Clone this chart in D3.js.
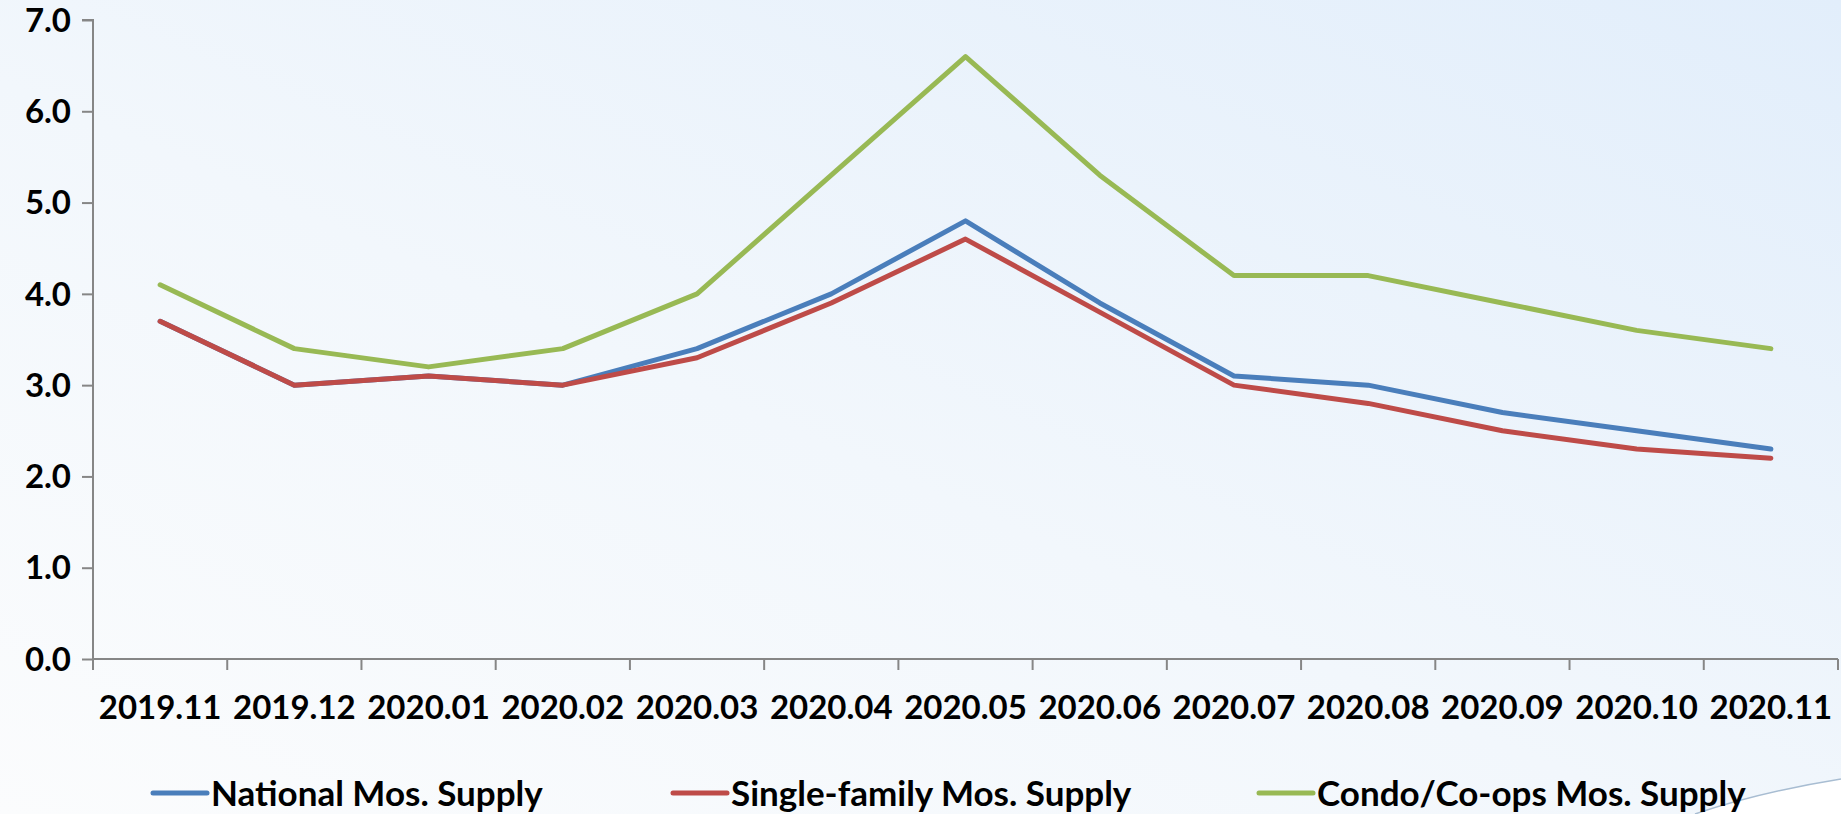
<!DOCTYPE html>
<html>
<head>
<meta charset="utf-8">
<script src="https://cdn.jsdelivr.net/npm/d3@7"></script>
<style>
html,body{margin:0;padding:0;overflow:hidden;background:#fff;}
svg{display:block;}
text{font-family:Lato,"Open Sans",sans-serif;font-weight:bold;fill:#000;}
</style>
</head>
<body>
<svg id="chart" width="1841" height="814"></svg>
<script>
const categories = ["2019.11","2019.12","2020.01","2020.02","2020.03","2020.04","2020.05","2020.06","2020.07","2020.08","2020.09","2020.10","2020.11"];
const national = [3.7,3.0,3.1,3.0,3.4,4.0,4.8,3.9,3.1,3.0,2.7,2.5,2.3];
const singleFamily = [3.7,3.0,3.1,3.0,3.3,3.9,4.6,3.8,3.0,2.8,2.5,2.3,2.2];
const condo = [4.1,3.4,3.2,3.4,4.0,5.3,6.6,5.3,4.2,4.2,3.9,3.6,3.4];
const yTicks = [0,1,2,3,4,5,6,7];
const seriesNames = ["National Mos. Supply","Single-family Mos. Supply","Condo/Co-ops Mos. Supply"];
const seriesColors = ["#4A7EBB","#BE4B48","#98B954"];

const W = 1841, H = 814;
const svg = d3.select("#chart");
const defs = svg.append("defs");
const g1 = defs.append("linearGradient").attr("id","bg").attr("x1","0").attr("y1","1").attr("x2","1").attr("y2","0");
g1.append("stop").attr("offset","0").attr("stop-color","#fbfcfd");
g1.append("stop").attr("offset","0.45").attr("stop-color","#f2f7fc");
g1.append("stop").attr("offset","1").attr("stop-color","#e2eefb");
svg.append("rect").attr("width",W).attr("height",H).attr("fill","url(#bg)");

// decorative swoosh bottom-right
svg.append("path")
  .attr("d","M1695,814 Q1760,792 1841,779 L1841,814 Z")
  .attr("fill","#ffffff");
svg.append("path")
  .attr("d","M1695,814 Q1760,792 1841,779")
  .attr("fill","none").attr("stroke","#a8bdd2").attr("stroke-width",1.5);

const x = d3.scaleBand().domain(categories).range([93,1838]);
const y = d3.scaleLinear().domain([0,7]).range([659,20]);

// y axis
const yAxis = d3.axisLeft(y).tickValues(yTicks).tickFormat(d3.format(".1f")).tickSize(11).tickPadding(11);
const yg = svg.append("g").attr("transform","translate(93,0)").call(yAxis);
yg.select(".domain").attr("stroke","#868686").attr("stroke-width",2).attr("d","M-11,20H0V659");
yg.selectAll(".tick line").attr("stroke","#868686").attr("stroke-width",2);
yg.selectAll(".tick text").attr("font-size",33).attr("font-family","Lato").attr("font-weight","bold").attr("fill","#000").attr("dy","0.34em");

// x axis (ticks on band boundaries)
const xg = svg.append("g").attr("transform","translate(0,659)");
xg.append("line").attr("x1",93).attr("x2",1838).attr("y1",0).attr("y2",0).attr("stroke","#868686").attr("stroke-width",2);
const bounds = categories.map(c => x(c)).concat([x.range()[1]]);
xg.selectAll("line.tk").data(bounds).join("line").attr("class","tk")
  .attr("x1",d=>d).attr("x2",d=>d).attr("y1",0).attr("y2",11)
  .attr("stroke","#868686").attr("stroke-width",2);
xg.selectAll("text.lbl").data(categories).join("text").attr("class","lbl")
  .attr("x",d=>x(d)+x.bandwidth()/2).attr("y",60)
  .attr("text-anchor","middle").attr("font-size",33).text(d=>d);

// lines
const allSeries = [national, singleFamily, condo];
const line = d3.line().x((d,i)=>x(categories[i])+x.bandwidth()/2).y(d=>y(d));
[condo, national, singleFamily].forEach(s=>{
  const idx = allSeries.indexOf(s);
  svg.append("path").datum(s).attr("d",line)
    .attr("fill","none").attr("stroke",seriesColors[idx]).attr("stroke-width",5)
    .attr("stroke-linejoin","round").attr("stroke-linecap","round");
});

// legend
const legX = [153,673,1259];
const leg = svg.append("g");
seriesNames.forEach((n,i)=>{
  leg.append("line").attr("x1",legX[i]).attr("x2",legX[i]+54).attr("y1",793).attr("y2",793)
    .attr("stroke",seriesColors[i]).attr("stroke-width",5).attr("stroke-linecap","round");
  leg.append("text").attr("x",legX[i]+58).attr("y",806).attr("font-size",35).text(n);
});
</script>
</body>
</html>
